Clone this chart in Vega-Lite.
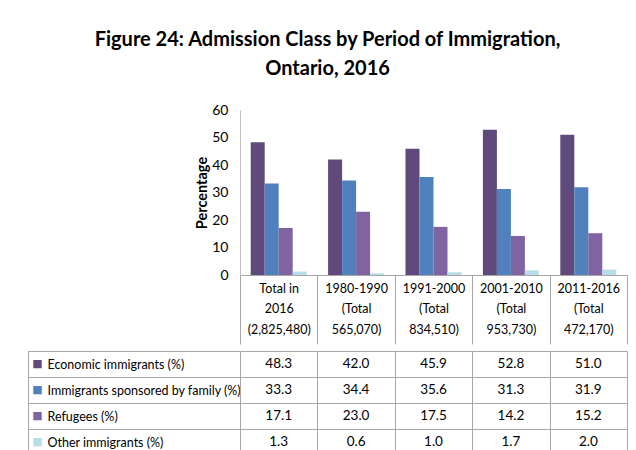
{
  "$schema": "https://vega.github.io/schema/vega-lite/v6.json",
  "background": "white",
  "padding": {"left": 27, "top": 30, "right": 5, "bottom": 0},
  "title": {
    "text": ["Figure 24: Admission Class by Period of Immigration,", "Ontario, 2016"],
    "font": "Lato",
    "fontSize": 20,
    "fontWeight": "bold",
    "lineHeight": 29,
    "anchor": "middle",
    "offset": 24,
    "color": "black"
  },
  "config": {
    "font": "Lato",
    "view": {"stroke": null},
    "concat": {"spacing": 0}
  },
  "datasets": {
    "rows": [
      {"period": "Total in\n2016\n(2,825,480)", "series": "Economic immigrants (%)", "value": 48.3},
      {"period": "Total in\n2016\n(2,825,480)", "series": "Immigrants sponsored by family (%)", "value": 33.3},
      {"period": "Total in\n2016\n(2,825,480)", "series": "Refugees (%)", "value": 17.1},
      {"period": "Total in\n2016\n(2,825,480)", "series": "Other immigrants (%)", "value": 1.3},
      {"period": "1980-1990\n(Total\n565,070)", "series": "Economic immigrants (%)", "value": 42.0},
      {"period": "1980-1990\n(Total\n565,070)", "series": "Immigrants sponsored by family (%)", "value": 34.4},
      {"period": "1980-1990\n(Total\n565,070)", "series": "Refugees (%)", "value": 23.0},
      {"period": "1980-1990\n(Total\n565,070)", "series": "Other immigrants (%)", "value": 0.6},
      {"period": "1991-2000\n(Total\n834,510)", "series": "Economic immigrants (%)", "value": 45.9},
      {"period": "1991-2000\n(Total\n834,510)", "series": "Immigrants sponsored by family (%)", "value": 35.6},
      {"period": "1991-2000\n(Total\n834,510)", "series": "Refugees (%)", "value": 17.5},
      {"period": "1991-2000\n(Total\n834,510)", "series": "Other immigrants (%)", "value": 1.0},
      {"period": "2001-2010\n(Total\n953,730)", "series": "Economic immigrants (%)", "value": 52.8},
      {"period": "2001-2010\n(Total\n953,730)", "series": "Immigrants sponsored by family (%)", "value": 31.3},
      {"period": "2001-2010\n(Total\n953,730)", "series": "Refugees (%)", "value": 14.2},
      {"period": "2001-2010\n(Total\n953,730)", "series": "Other immigrants (%)", "value": 1.7},
      {"period": "2011-2016\n(Total\n472,170)", "series": "Economic immigrants (%)", "value": 51.0},
      {"period": "2011-2016\n(Total\n472,170)", "series": "Immigrants sponsored by family (%)", "value": 31.9},
      {"period": "2011-2016\n(Total\n472,170)", "series": "Refugees (%)", "value": 15.2},
      {"period": "2011-2016\n(Total\n472,170)", "series": "Other immigrants (%)", "value": 2.0}
    ]
  },
  "vconcat": [
    {
      "width": 387,
      "height": 165,
      "data": {"name": "rows"},
      "mark": {"type": "bar"},
      "encoding": {
        "x": {
          "field": "period", "type": "nominal", "sort": null,
          "scale": {"paddingInner": 0, "paddingOuter": 0},
          "axis": {
            "title": null, "labelAngle": 0, "tickBand": "extent", "tickSize": 69,
            "tickColor": "#A6A6A6", "domainColor": "#A6A6A6",
            "labelExpr": "split(datum.label, '\\n')",
            "labelPadding": -62, "labelBaseline": "top", "labelLineHeight": 20.5,
            "labelFontSize": 12.5, "labelColor": "black", "labelAlign": "center"
          }
        },
        "xOffset": {"field": "series", "type": "nominal", "sort": null, "scale": {"paddingInner": 0, "paddingOuter": 0.764}},
        "y": {
          "field": "value", "type": "quantitative",
          "scale": {"domain": [0, 60]},
          "axis": {
            "title": "Percentage", "titleFontSize": 14.5, "titleFontWeight": "bold", "titleColor": "black",
            "titlePadding": 2, "grid": false, "ticks": false, "tickSize": 0,
            "values": [0, 10, 20, 30, 40, 50, 60],
            "labelPadding": 12, "labelFontSize": 14, "labelColor": "black",
            "domainColor": "#BFBFBF"
          }
        },
        "color": {
          "field": "series", "type": "nominal", "sort": null,
          "scale": {
            "domain": ["Economic immigrants (%)", "Immigrants sponsored by family (%)", "Refugees (%)", "Other immigrants (%)"],
            "range": ["#604A7B", "#4F81BD", "#8064A2", "#B7DEE8"]
          },
          "legend": null
        }
      }
    },
    {
      "width": 387,
      "height": 104,
      "data": {"name": "rows"},
      "layer": [
        {
          "mark": {"type": "text", "fontSize": 13.5, "color": "black"},
          "encoding": {
            "x": {
              "field": "period", "type": "nominal", "sort": null,
              "scale": {"paddingInner": 0, "paddingOuter": 0},
              "axis": {
                "title": null, "labels": false, "ticks": false, "domain": false,
                "grid": true, "tickBand": "extent", "gridColor": "#A6A6A6", "gridOpacity": 1
              }
            },
            "y": {
              "field": "series", "type": "nominal", "sort": null,
              "scale": {"paddingInner": 0, "paddingOuter": 0},
              "axis": {
                "title": null, "tickBand": "extent", "tickSize": 212, "tickColor": "#A6A6A6",
                "grid": true, "gridColor": "#A6A6A6", "gridOpacity": 1, "domainColor": "#A6A6A6",
                "labelAlign": "left", "labelPadding": -19, "labelFontSize": 12.5,
                "labelColor": "black", "labelLimit": 0
              }
            },
            "text": {"field": "value", "type": "quantitative", "format": ".1f"}
          }
        },
        {
          "mark": {"type": "text", "text": ""},
          "encoding": {
            "y": {
              "field": "series", "type": "nominal", "sort": null,
              "axis": {
                "orient": "left", "offset": 212, "title": null, "ticks": false, "tickSize": 0,
                "grid": false, "domainColor": "#A6A6A6",
                "labelExpr": "'■'", "labelAlign": "center", "labelPadding": -9,
                "labelFontSize": 11, "labelFont": "DejaVu Sans",
                "labelColor": {
                  "condition": [
                    {"test": "datum.value === 'Economic immigrants (%)'", "value": "#604A7B"},
                    {"test": "datum.value === 'Immigrants sponsored by family (%)'", "value": "#4F81BD"},
                    {"test": "datum.value === 'Refugees (%)'", "value": "#8064A2"}
                  ],
                  "value": "#B7DEE8"
                }
              }
            }
          }
        }
      ],
      "resolve": {"axis": {"y": "independent"}}
    }
  ]
}
